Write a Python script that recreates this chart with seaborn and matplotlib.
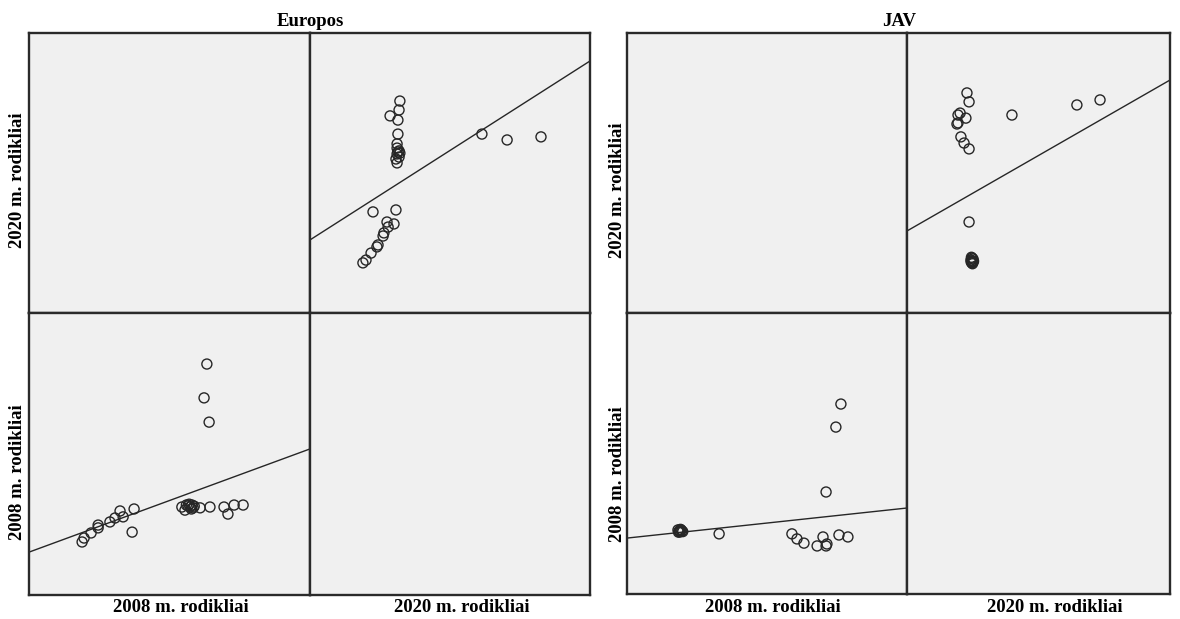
import matplotlib
matplotlib.use('Agg')
import matplotlib.pyplot as plt
import seaborn as sns
import pandas as pd

# Europos - 2020 pries 2020 langelis (virsuje desineje)
eu_tr_x = [32.1, 31.8, 28.6, 31.4, 31.4, 31.1, 31.1, 31.4, 31.8, 31.1, 30.7, 31.1, 32.1, 31.8,
           61.4, 70.4, 82.5,
           22.5, 30.7, 27.5, 30.0, 27.9, 26.4, 26.1, 24.3, 23.9, 21.8, 20.0, 18.9]
eu_tr_y = [75.7, 72.5, 70.4, 68.9, 63.9, 60.4, 58.9, 57.5, 57.9, 56.8, 55.0, 53.6, 57.1, 55.7,
           63.9, 61.8, 62.9,
           36.1, 36.8, 32.5, 31.8, 30.7, 28.6, 27.5, 24.3, 23.6, 21.4, 18.9, 17.9]
eu_tr_line = [26.1, 90.0]

# Europos - apacioje kaireje
eu_bl_x = [63.3, 62.3, 64.1,
           18.9, 19.6, 22.1, 24.6, 24.6, 28.8, 30.6, 32.4, 33.5, 37.4, 36.7,
           54.4, 55.5, 56.6, 58.0, 58.4, 57.3, 56.0, 57.0, 58.8, 57.8,
           60.9, 64.4, 69.4, 70.8, 73.0, 76.2]
eu_bl_y = [81.9, 69.9, 61.3,
           18.8, 20.2, 22.0, 23.8, 24.8, 25.9, 27.3, 29.8, 27.7, 30.5, 22.3,
           31.2, 30.1, 31.6, 31.9, 30.9, 31.2, 31.9, 32.2, 31.5, 30.5,
           30.9, 31.2, 31.2, 28.7, 31.9, 31.9]
eu_bl_line = [15.2, 51.8]

# JAV - virsuje desineje
us_tr_x = [22.8, 23.6, 20.2, 19.4, 22.4, 19.0, 19.4, 20.5, 21.7, 23.6,
           39.9, 64.6, 73.4, 23.6,
           24.7, 25.1, 24.3, 24.7, 25.1, 24.7, 24.5, 25.3, 24.9, 24.4]
us_tr_y = [78.6, 75.4, 71.4, 70.7, 69.6, 67.5, 67.9, 62.9, 60.7, 58.6,
           70.7, 74.3, 76.1, 32.5,
           19.6, 18.2, 18.9, 18.6, 19.3, 17.9, 19.9, 18.5, 17.6, 18.2]
us_tr_line = [29.3, 83.2]

# JAV - apacioje kaireje
us_bl_x = [76.4, 74.6, 71.1,
           18.9, 18.2, 19.6, 18.9, 18.6, 19.3, 19.9, 18.4, 19.1,
           32.9, 58.9, 60.7, 63.2, 67.9, 70.0, 71.4, 71.1, 75.7, 78.9]
us_bl_y = [67.6, 59.4, 36.3,
           22.4, 22.8, 22.4, 22.1, 22.4, 22.8, 22.2, 22.0, 23.0,
           21.4, 21.4, 19.6, 18.1, 17.1, 20.3, 17.8, 17.1, 21.0, 20.3]
us_bl_line = [19.9, 30.6]

sns.set_style('white')
plt.rcParams['font.family'] = ['Liberation Serif', 'DejaVu Serif']

W, H = 1180, 619
fig = plt.figure(figsize=(W / 100, H / 100), dpi=100)


def cell(x0, y0, x1, y1):
    ax = fig.add_axes([x0 / W, 1 - y1 / H, (x1 - x0) / W, (y1 - y0) / H])
    ax.set_facecolor('#f0f0f0')
    ax.set_xlim(0, 100)
    ax.set_ylim(0, 100)
    ax.set_xticks([])
    ax.set_yticks([])
    ax.set_xlabel('')
    ax.set_ylabel('')
    for s in ax.spines.values():
        s.set_color('#2a2a2a')
        s.set_linewidth(1.7)
    return ax


def draw(ax, xs, ys, line):
    df = pd.DataFrame({'x': xs, 'y': ys})
    sns.scatterplot(data=df, x='x', y='y', ax=ax, s=52, facecolor='none',
                    edgecolor='#262626', linewidth=1.0, zorder=3)
    ln = pd.DataFrame({'x': [0, 100], 'y': line})
    sns.lineplot(data=ln, x='x', y='y', ax=ax, color='#262626', linewidth=1.0)
    ax.set_xlim(0, 100)
    ax.set_ylim(0, 100)
    ax.set_xlabel('')
    ax.set_ylabel('')


# kairys blokas
cell(29, 33, 310, 313)
a = cell(310, 33, 590, 313)
draw(a, eu_tr_x, eu_tr_y, eu_tr_line)
b = cell(29, 313, 310, 595)
draw(b, eu_bl_x, eu_bl_y, eu_bl_line)
cell(310, 313, 590, 595)

# desinys blokas
cell(627, 33, 907, 313)
c = cell(907, 33, 1170, 313)
draw(c, us_tr_x, us_tr_y, us_tr_line)
d = cell(627, 313, 907, 594)
draw(d, us_bl_x, us_bl_y, us_bl_line)
cell(907, 313, 1170, 594)

fs = 13.5
txt = dict(fontsize=fs, fontweight='bold', color='black')
fig.text(310 / W, 1 - 21 / H, 'Europos', ha='center', va='center', **txt)
fig.text(899 / W, 1 - 21 / H, 'JAV', ha='center', va='center', **txt)

for xc, lab in [(181, '2008 m. rodikliai'), (462, '2020 m. rodikliai'),
                (773, '2008 m. rodikliai'), (1055, '2020 m. rodikliai')]:
    fig.text(xc / W, 1 - 608 / H, lab, ha='center', va='center', **txt)

for xc, yc, lab in [(18, 180, '2020 m. rodikliai'), (18, 472, '2008 m. rodikliai'),
                    (617, 190, '2020 m. rodikliai'), (617, 474, '2008 m. rodikliai')]:
    fig.text(xc / W, 1 - yc / H, lab, ha='center', va='center', rotation=90, **txt)

fig.savefig('out.png', dpi=100)
